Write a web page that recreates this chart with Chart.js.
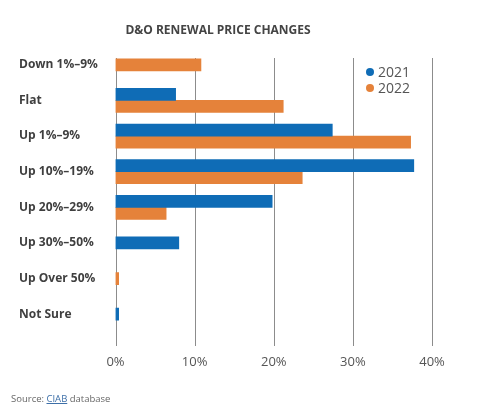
<!DOCTYPE html>
<html>
<head>
<meta charset="utf-8">
<script src="https://cdn.jsdelivr.net/npm/chart.js@4"></script>
<style>
    body { margin: 0; background: #fff; font-family: 'Open Sans', sans-serif; }
    #wrap { position: relative; width: 500px; height: 417px; }
    #title { position: absolute; left: 0; width: 436px; top: 21px; text-align: center; font-weight: 700; font-size: 12px; color: #444; }
    #legend { position: absolute; left: 366px; top: 64px; font-size: 14px; color: #555; line-height: 16px; }
    #legend .dot { display: inline-block; width: 8px; height: 8px; border-radius: 50%; margin-right: 4px; vertical-align: 1px; }
    #source { position: absolute; left: 11px; top: 392px; font-size: 9.5px; color: #666; }
    #source span { color: #3d6fa8; text-decoration: underline; }
</style>
</head>
<body>
<div id="wrap">
    <canvas id="chart" width="500" height="417"></canvas>
    <div id="title">D&amp;O RENEWAL PRICE CHANGES</div>
    <div id="legend"></div>
    <div id="source">Source: <span>CIAB</span> database</div>
</div>
<script>
// Data
const categories = ['Down 1%–9%', 'Flat', 'Up 1%–9%', 'Up 10%–19%', 'Up 20%–29%', 'Up 30%–50%', 'Up Over 50%', 'Not Sure'];
const seriesNames = ['2021', '2022'];
const values2021 = [null, 7.6, 27.4, 37.7, 19.8, 8.0, null, 0.4];
const values2022 = [10.8, 21.2, 37.3, 23.6, 6.4, null, 0.4, null];
const xTicks = [0, 10, 20, 30, 40];
const seriesColors = ['#0f6cb6', '#e5823a'];

// Legend
document.getElementById('legend').innerHTML = seriesNames.map((name, i) =>
    `<div><span class="dot" style="background:${seriesColors[i]}"></span>${name}</div>`
).join('');

// Vertical grid lines, drawn from the x scale's ticks
const gridPlugin = {
    id: 'gridLines',
    beforeDatasetsDraw(chart) {
        const ctx = chart.ctx;
        const x = chart.scales.x;
        const area = chart.chartArea;
        ctx.save();
        ctx.strokeStyle = '#8c8c8c';
        ctx.lineWidth = 1;
        x.ticks.forEach(t => {
            const px = Math.round(x.getPixelForValue(t.value)) + 0.5;
            ctx.beginPath();
            ctx.moveTo(px, area.top + 11);
            ctx.lineTo(px, area.bottom + 14);
            ctx.stroke();
        });
        ctx.restore();
    }
};

new Chart(document.getElementById('chart'), {
    type: 'bar',
    data: {
        labels: categories,
        datasets: [
            { label: seriesNames[0], data: values2021, backgroundColor: seriesColors[0] },
            { label: seriesNames[1], data: values2022, backgroundColor: seriesColors[1] }
        ]
    },
    options: {
        indexAxis: 'y',
        responsive: false,
        animation: false,
        skipNull: true,
        barThickness: 12,
        layout: { padding: { left: 19, right: 68, top: 47, bottom: 50 } },
        plugins: {
            legend: { display: false },
            tooltip: { enabled: false }
        },
        scales: {
            x: {
                min: 0,
                max: 40,
                afterBuildTicks: scale => { scale.ticks = xTicks.map(v => ({ value: v })); },
                afterFit: scale => { scale.height = 35; },
                grid: { display: false },
                border: { display: false },
                ticks: {
                    padding: 14,
                    color: '#555',
                    font: { family: 'Open Sans', size: 13 },
                    callback: v => v + '%'
                }
            },
            y: {
                afterFit: scale => { scale.width = 96.5; },
                grid: { display: false },
                border: { display: false },
                ticks: {
                    crossAlign: 'far',
                    color: '#3f3f3f',
                    font: { family: 'Open Sans', size: 12, weight: '700' }
                }
            }
        }
    },
    plugins: [gridPlugin]
});
</script>
</body>
</html>
